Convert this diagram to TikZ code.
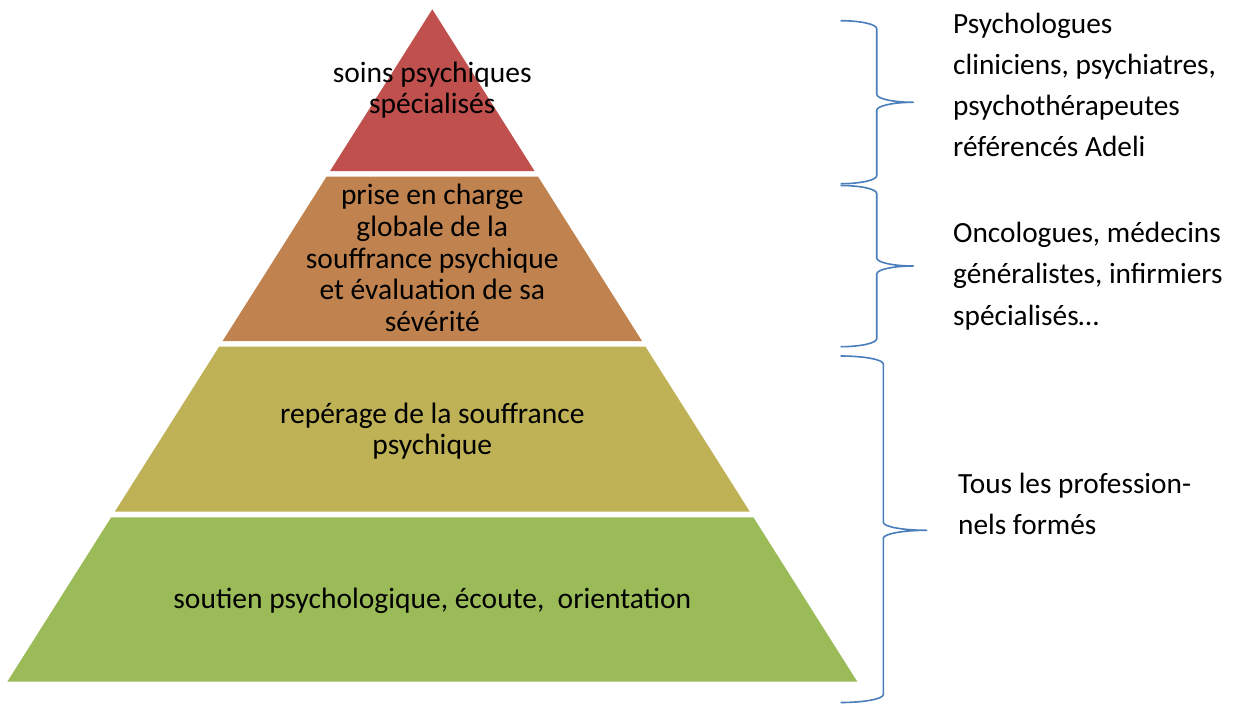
\documentclass[tikz,border=0pt]{standalone}
\usepackage{fontspec}
\setmainfont{Carlito}
\definecolor{tierred}{HTML}{C0504D}
\definecolor{tierbrown}{HTML}{C0834F}
\definecolor{tierolive}{HTML}{BFB156}
\definecolor{tiergreen}{HTML}{9BBB59}
\definecolor{braceblue}{HTML}{4A7EBB}
% right curly brace: end x, spine x, tip x, top y, tip y, bottom y, corner radius
\newcommand{\curlybrace}[7]{%
  \draw[bracebrush] (#1,#4)
    .. controls ({#1+0.552*(#2-#1)},#4) and (#2,{#4+0.448*#7}) .. (#2,{#4+#7})
    -- (#2,{#5-#7})
    .. controls (#2,{#5-0.448*#7}) and ({#2+0.448*(#3-#2)},#5) .. (#3,#5)
    .. controls ({#2+0.448*(#3-#2)},#5) and (#2,{#5+0.448*#7}) .. (#2,{#5+#7})
    -- (#2,{#6-#7})
    .. controls (#2,{#6-0.448*#7}) and ({#1+0.552*(#2-#1)},#6) .. (#1,#6);}
\begin{document}
\begin{tikzpicture}[x=1pt,y=-1pt,
  tiertext/.style={align=center,font=\fontsize{29.5}{31.7}\selectfont,inner sep=0pt},
  roletext/.style={align=left,anchor=west,font=\fontsize{29.3}{41.2}\selectfont,inner sep=0pt},
  bracebrush/.style={draw=braceblue,line width=1.6pt,line join=round}]
\useasboundingbox[fill=white] (0,0) rectangle (1233,704);

% pyramid tiers
\fill[tierred]   (432.3,9.3) -- (534.5,171) -- (330.1,171) -- cycle;
\fill[tierbrown] (326.5,176.7) -- (538.1,176.7) -- (642.1,341.2) -- (222.5,341.2) -- cycle;
\fill[tierolive] (219.1,346.7) -- (645.5,346.7) -- (749.8,511.7) -- (114.8,511.7) -- cycle;
\fill[tiergreen] (111.2,517.3) -- (753.4,517.3) -- (857.3,681.7) -- (7.3,681.7) -- cycle;

% tier labels
\node[tiertext] (t1) at (432.3,90) {soins psychiques\\spécialisés};
\node[tiertext] (t2) at (432.3,258) {prise en charge\\globale de la\\souffrance psychique\\et évaluation de sa\\sévérité};
\node[tiertext] (t3) at (432.3,431) {repérage de la souffrance\\psychique};
\node[tiertext] (t4) at (432.3,600.5) {soutien psychologique, écoute,\ \ orientation};

% braces
\curlybrace{840.7}{876.7}{913.3}{20.7}{102.3}{183.7}{8}
\curlybrace{840.7}{876.7}{913.3}{185.5}{266}{346.7}{8}
\curlybrace{840.7}{883.3}{926.7}{356}{530.3}{702.5}{8}

% professional groups
\node[roletext] (r1) at (953,85) {Psychologues\\cliniciens, psychiatres,\\psychothérapeutes\\référencés Adeli};
\node[roletext] (r2) at (953,276) {Oncologues, médecins\\généralistes, infirmiers\\spécialisés…};
\node[roletext] (r3) at (958,504) {Tous les profession-\\nels formés};
\end{tikzpicture}
\end{document}
